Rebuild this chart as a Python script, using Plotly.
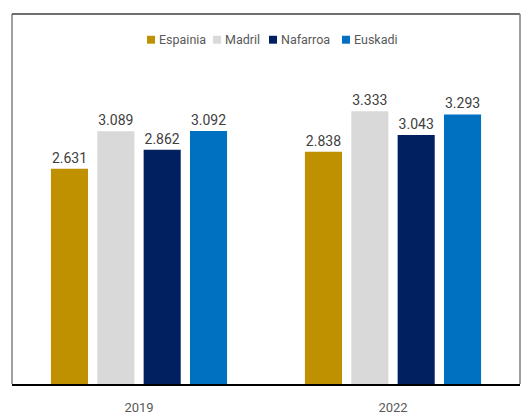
import plotly.graph_objects as go

years = ["2019", "2022"]
series_names = ["Espainia", "Madril", "Nafarroa", "Euskadi"]
espainia = [2631, 2838]
madril = [3089, 3333]
nafarroa = [2862, 3043]
euskadi = [3092, 3293]
colors = ["#BF9000", "#D9D9D9", "#002060", "#0070C0"]

series_values = [espainia, madril, nafarroa, euskadi]

W, H = 521, 416
ml, mr, mt, mb = 12, 1, 14, 28
pw, ph = W - ml - mr, H - mt - mb
FONT = "Roboto, sans-serif"

fig = go.Figure()
for name, vals, col in zip(series_names, series_values, colors):
    fig.add_trace(go.Bar(
        x=years, y=vals, name=name, marker_color=col,
        marker_line_width=0,
        texttemplate="%{y:,}", textposition="outside",
        textfont=dict(color="#404040", size=14, family=FONT),
        cliponaxis=False, showlegend=False,
    ))

# manual legend (layout positions in pixels)
legend_square_x = [147, 213, 269, 342]
legend_y = 40
for name, col, sx in zip(series_names, colors, legend_square_x):
    fig.add_shape(type="rect", xref="paper", yref="paper",
                  x0=(sx - ml) / pw, x1=(sx + 8 - ml) / pw,
                  y0=(H - mb - (legend_y + 4)) / ph, y1=(H - mb - (legend_y - 4)) / ph,
                  fillcolor=col, line_width=0)
    fig.add_annotation(xref="paper", yref="paper", x=(sx + 10 - ml) / pw,
                       y=(H - mb - legend_y) / ph, xanchor="left", yanchor="middle",
                       text=name, showarrow=False,
                       font=dict(color="#595959", size=12.5, family=FONT))

fig.update_layout(
    width=W, height=H,
    margin=dict(l=ml, r=mr, t=mt, b=mb, pad=0),
    paper_bgcolor="white", plot_bgcolor="white",
    barmode="group", bargap=0.27, bargroupgap=0.2,
    separators=",.",
    showlegend=False,
    font=dict(family=FONT, color="#595959"),
    xaxis=dict(showline=True, linecolor="black", linewidth=1.5, ticks="",
               tickfont=dict(color="#595959", size=13, family=FONT), showgrid=False,
               ticklabelstandoff=11),
    yaxis=dict(range=[0, 4520], visible=False, showgrid=False, zeroline=False),
)
# frame lines (left, top, right)
frame = dict(type="line", xref="paper", yref="paper", line=dict(color="#7F7F7F", width=1.5))
fig.add_shape(x0=0, x1=0, y0=0, y1=1, **frame)
fig.add_shape(x0=0, x1=1, y0=1, y1=1, line=dict(color="#404040", width=1.5), xref="paper", yref="paper", type="line")
fig.add_shape(x0=1, x1=1, y0=0, y1=1, **frame)

fig.write_html("out.html", config={"displayModeBar": False},
               post_script="document.body.style.margin='0';")
